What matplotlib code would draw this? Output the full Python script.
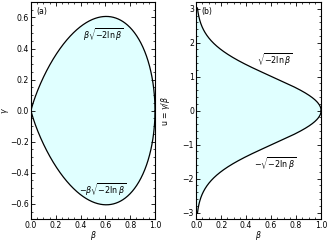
import numpy as np
import matplotlib
matplotlib.use('Agg')
import matplotlib.pyplot as plt

# sample points of beta and the two curves shown in the panels
beta = np.linspace(0.0001, 1.0, 800)
gamma_upper = beta * np.sqrt(-2 * np.log(beta))
beta_b = np.linspace(0.0104, 1.0, 800)
u_upper = np.sqrt(-2 * np.log(beta_b))

fill_color = '#e0ffff'
plt.rcParams['font.size'] = 5.6
plt.rcParams['mathtext.fontset'] = 'dejavusans'

fig = plt.figure(figsize=(3.28, 2.41), dpi=100)
ax1 = fig.add_axes([0.0945, 0.09, 0.378, 0.902])
ax2 = fig.add_axes([0.598, 0.09, 0.381, 0.902])

# (a)
ax1.fill_between(beta, -gamma_upper, gamma_upper, color=fill_color, lw=0)
ax1.plot(beta, gamma_upper, color='black', lw=0.9)
ax1.plot(beta, -gamma_upper, color='black', lw=0.9)
ax1.set_xlim(0, 1)
ax1.set_ylim(-0.7, 0.7)
ax1.set_xticks([0, 0.2, 0.4, 0.6, 0.8, 1.0])
ax1.set_yticks([-0.6, -0.4, -0.2, 0.0, 0.2, 0.4, 0.6])
ax1.set_xlabel(r'$\beta$')
ax1.set_ylabel(r'$\gamma$')
ax1.xaxis.set_label_coords(0.5, -0.045)
ax1.yaxis.set_label_coords(-0.16, 0.5)
ax1.text(0.04, 0.975, '(a)', transform=ax1.transAxes, va='top', ha='left')
ax1.text(0.58, 0.49, r'$\beta\sqrt{-2\ln\beta}$', ha='center', va='center', fontsize=5.8)
ax1.text(0.58, -0.51, r'$-\beta\sqrt{-2\ln\beta}$', ha='center', va='center', fontsize=5.8)

# (b)
ax2.fill_betweenx(np.concatenate([-u_upper, u_upper[::-1]]),
                  0, np.concatenate([beta_b, beta_b[::-1]]), color=fill_color, lw=0)
ax2.plot(beta_b, u_upper, color='black', lw=0.9)
ax2.plot(beta_b, -u_upper, color='black', lw=0.9)
ax2.set_xlim(0, 1)
ax2.set_ylim(-3.2, 3.2)
ax2.set_xticks([0, 0.2, 0.4, 0.6, 0.8, 1.0])
ax2.set_yticks([-3, -2, -1, 0, 1, 2, 3])
ax2.set_xlabel(r'$\beta$')
ax2.set_ylabel(r'u = $\gamma/\beta$')
ax2.xaxis.set_label_coords(0.5, -0.045)
ax2.yaxis.set_label_coords(-0.19, 0.5)
ax2.text(0.04, 0.975, '(b)', transform=ax2.transAxes, va='top', ha='left')
ax2.text(0.63, 1.49, r'$\sqrt{-2\ln\beta}$', ha='center', va='center', fontsize=5.8)
ax2.text(0.63, -1.55, r'$-\sqrt{-2\ln\beta}$', ha='center', va='center', fontsize=5.8)

for ax in (ax1, ax2):
    ax.minorticks_on()
    ax.tick_params(which='both', direction='in', top=True, right=True, pad=1.5)
    ax.tick_params(which='major', length=3, width=0.6)
    ax.tick_params(which='minor', length=1.5, width=0.5)
    for s in ax.spines.values():
        s.set_linewidth(0.8)

fig.savefig('out.png', dpi=100)
